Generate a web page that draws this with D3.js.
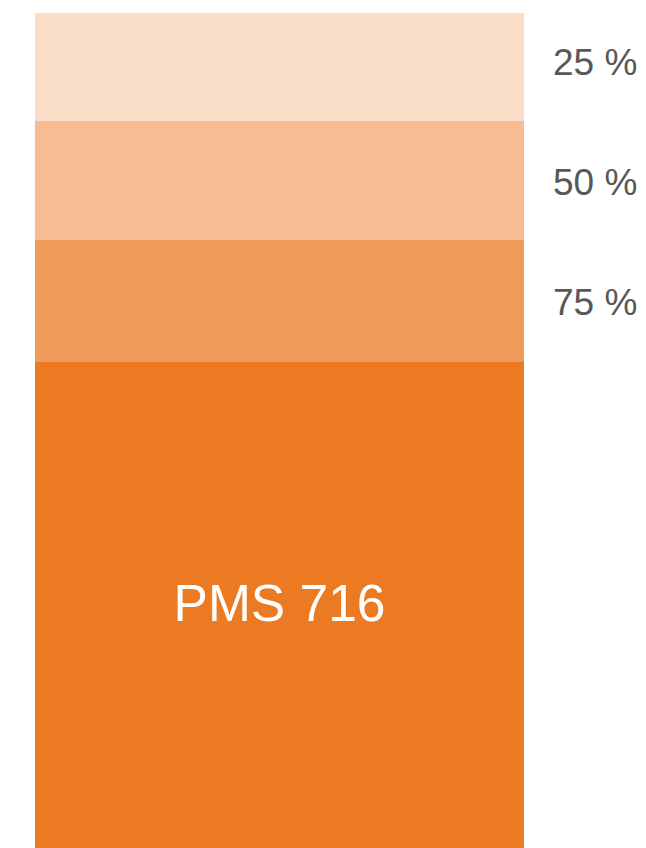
<!DOCTYPE html>
<html>
<head>
<meta charset="utf-8">
<script src="https://cdn.jsdelivr.net/npm/d3@7"></script>
<style>
  html, body { margin: 0; padding: 0; background: #fff; }
  svg { display: block; }
</style>
</head>
<body>
<div class="swatch"></div>
<script>
// tint levels of the base colour, top to bottom
const tints = [0.25, 0.5, 0.75, 1];
const tintLabels = ["25 %", "50 %", "75 %"];
const bandSpan = [108, 119, 122, 486];
const baseColor = "#eb7a23";
const swatchName = "PMS 716";

function drawSwatch() {
    const width = 646;
    const height = 848;
    const margin = { top: 13, left: 35, right: 122, bottom: 0 };

    const svg = d3.select(".swatch")
        .append("svg")
        .attr("width", width)
        .attr("height", height);

    const stops = [0];
    bandSpan.forEach((s, i) => stops.push(stops[i] + s));

    const y = d3.scaleLinear()
        .domain([0, d3.sum(bandSpan)])
        .range([margin.top, height - margin.bottom]);

    const x = d3.scaleLinear()
        .domain([0, 1])
        .range([margin.left, width - margin.right]);

    const tintColor = t => d3.interpolateRgb("#ffffff", baseColor)(t);

    svg.append("g")
        .selectAll("rect")
        .data(tints)
        .enter()
        .append("rect")
        .attr("x", x(0))
        .attr("width", x(1) - x(0))
        .attr("y", (d, i) => y(stops[i]))
        .attr("height", (d, i) => y(stops[i + 1]) - y(stops[i]))
        .attr("fill", d => tintColor(d));

    // labels to the right, evenly spaced
    const labelY = d3.scalePoint()
        .domain(tintLabels)
        .range([62, 302]);

    svg.append("g")
        .selectAll("text")
        .data(tintLabels)
        .enter()
        .append("text")
        .attr("x", 553)
        .attr("y", d => labelY(d))
        .attr("dy", "0.36em")
        .style("font-family", "'Liberation Sans', Arial, sans-serif")
        .style("font-size", "37px")
        .style("fill", "#585858")
        .text(d => d);

    svg.append("text")
        .attr("x", (x(0) + x(1)) / 2)
        .attr("y", 602)
        .attr("dy", "0.36em")
        .style("text-anchor", "middle")
        .style("font-family", "'Liberation Sans', Arial, sans-serif")
        .style("font-size", "51.5px")
        .style("fill", "#ffffff")
        .text(swatchName);
}

drawSwatch();
</script>
</body>
</html>
